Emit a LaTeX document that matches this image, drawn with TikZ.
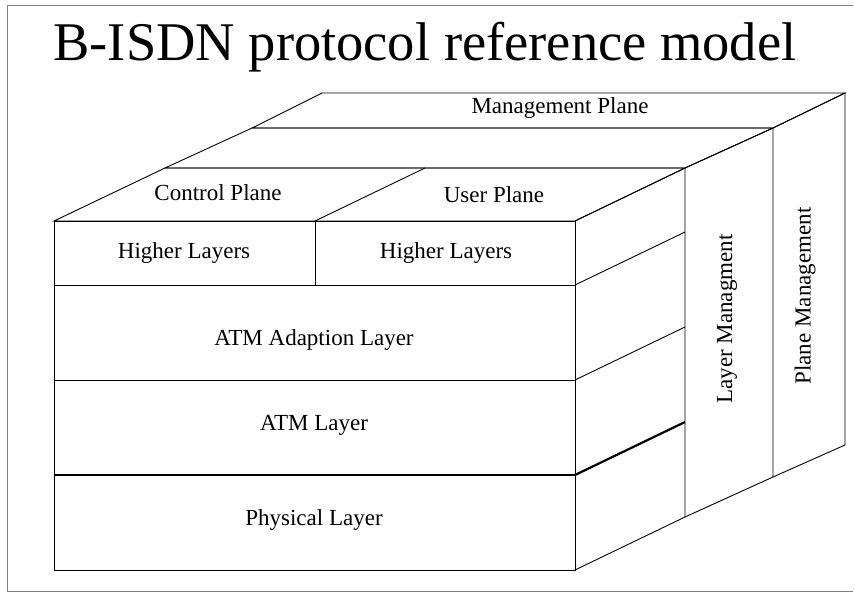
\documentclass[tikz,border=0pt]{standalone}
\usepackage{fontspec}
\setmainfont{Liberation Serif}
\usepackage{tikz}
\tikzset{
  face/.style={draw, line width=0.9pt, line join=miter},
  lbl/.style={font=\fontsize{23}{27}\selectfont, inner sep=0pt},
  heavy/.style={line width=2.2pt}
}
\begin{document}
\begin{tikzpicture}[x=1pt,y=-1pt]
	\useasboundingbox (0,0) rectangle (855,598);
	% cadre
	\draw[gray, line width=0.8pt] (853,5) -- (7,5) -- (7,591) -- (853,591);
	
	% titre
	\node[inner sep=0pt, font=\fontsize{54.5}{58}\selectfont] (title) at (425,47) {B-ISDN protocol reference model};
	
	% plan de gestion (dessus)
	\draw[face] (252,128) -- (773,128) -- (845,93) -- (322,93) -- cycle;
	% plan de gestion des couches (dessus)
	\draw[face] (165,168) -- (685,168) -- (773,128) -- (252,128) -- cycle;
	% plans de controle et usager (dessus)
	\draw[face] (54,221) -- (575,221) -- (685,168) -- (165,168) -- cycle;
	\draw[face] (315,221) -- (425,168);
	
	% face avant
	\draw[face] (54,221) rectangle (575,570);
	\draw[face] (315,221) -- (315,285);
	\draw[face] (54,285) -- (575,285);
	\draw[face] (54,380) -- (575,380);
	\draw[face, heavy] (54,475) -- (575,475);
	
	% face laterale
	\draw[face] (575,221) -- (685,168) -- (685,517) -- (575,570);
	\draw[face] (575,285) -- (685,232);
	\draw[face] (575,380) -- (685,327);
	\draw[face, heavy] (575,475) -- (685,422);
	
	% gestion des couches / des plans (cotes)
	\draw[face] (685,168) -- (773,128) -- (773,477) -- (685,517);
	\draw[face] (773,128) -- (845,93) -- (845,445) -- (773,477);
	
	% etiquettes
	\node[lbl] (mgmt) at (560,108) {Management Plane};
	\node[lbl] (ctrl) at (218,193) {Control Plane};
	\node[lbl] (user) at (494,195) {User Plane};
	\node[lbl] (highL) at (184,253) {Higher Layers};
	\node[lbl] (highR) at (446,253) {Higher Layers};
	\node[lbl] (aal) at (314,340) {ATM Adaption Layer};
	\node[lbl] (atm) at (314,425) {ATM Layer};
	\node[lbl] (phy) at (314,520) {Physical Layer};
	\node[lbl, rotate=90] (laymgmt) at (727,319) {Layer Managment};
	\node[lbl, rotate=90] (plnmgmt) at (805,296) {Plane Management};
\end{tikzpicture}
\end{document}
